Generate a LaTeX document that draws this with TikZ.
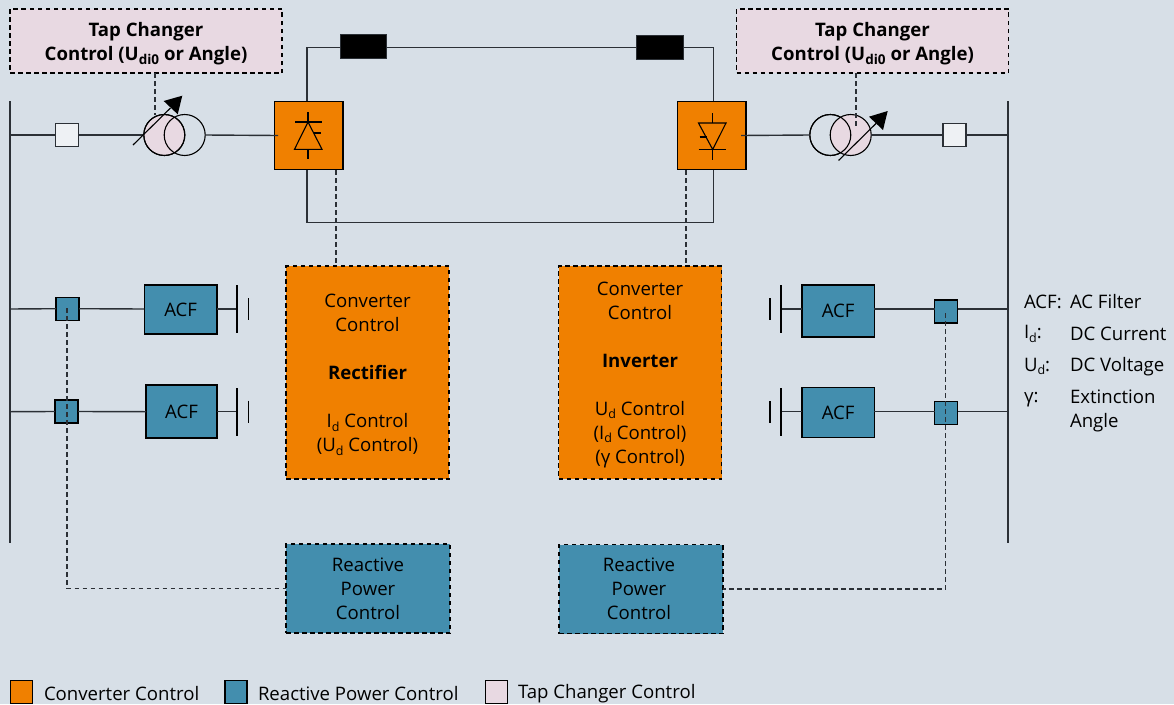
\documentclass[tikz,border=0pt]{standalone}
\usepackage{fontspec}
\setmainfont{Open Sans}
\definecolor{bgc}{HTML}{D7DFE7}
\definecolor{linec}{HTML}{2B3036}
\definecolor{orangec}{HTML}{F08000}
\definecolor{bluec}{HTML}{438EAE}
\definecolor{pinkc}{HTML}{E8D9E2}
\definecolor{whitec}{HTML}{EEF1F4}
\newcommand{\subs}[1]{\raisebox{-0.35ex}{\fontsize{12.5}{12}\selectfont #1}}
\newcommand{\bsubs}[1]{\raisebox{-0.35ex}{\fontsize{13.5}{12}\selectfont #1}}
\newcommand{\tfs}{\fontsize{18.6}{24}\selectfont}
\newcommand{\lift}[1]{\rule{0pt}{#1pt}}
\newcommand{\nudge}{\hspace*{-4pt}}
\tikzset{
  txt/.style={font=\tfs,text=black,inner sep=0pt,outer sep=0pt},
  wire/.style={draw=linec,line width=1.4pt},
  ctrl/.style={draw=linec,line width=1.3pt,dash pattern=on 4.5pt off 3.5pt},
  solidbox/.style={draw=black,line width=1.1pt,inner sep=0pt,outer sep=0pt},
  dashbox/.style={draw=black,line width=1.1pt,dash pattern=on 4.5pt off 3.5pt,inner sep=0pt,outer sep=0pt,
     align=center,font=\tfs,text=black},
  tapbox/.style={dashbox,fill=pinkc,minimum width=272pt,minimum height=64pt,font=\tfs\bfseries},
  convbox/.style={dashbox,fill=orangec,minimum width=163pt,minimum height=213pt},
  rpcbox/.style={dashbox,fill=bluec,minimum width=164pt,minimum height=89pt},
  converter/.style={solidbox,fill=orangec,minimum size=68.5pt},
  reactor/.style={solidbox,draw=linec,fill=black,minimum width=46.5pt,minimum height=24pt},
  breaker/.style={solidbox,draw=linec,fill=whitec,minimum size=23pt},
  acbreaker/.style={solidbox,fill=bluec,minimum size=23pt},
  acf/.style={solidbox,fill=bluec,font=\tfs,text=black},
  winding/.style={circle,draw=black,line width=1.1pt,minimum size=41pt,inner sep=0pt,outer sep=0pt},
  legendbox/.style={solidbox,minimum width=22pt,minimum height=23pt},
  thinl/.style={draw=black,line width=1.1pt},
}
\begin{document}
\begin{tikzpicture}[x=1pt,y=-1pt]
\useasboundingbox (0,0) rectangle (1174,704);
\fill[bgc] (0,0) rectangle (1174,704);

% bus bars
\coordinate (busLt) at (10,101);
\coordinate (busLb) at (10,543);
\coordinate (busRt) at (1008,101);
\coordinate (busRb) at (1008,543);
\draw[wire] (busLt) -- (busLb);
\draw[wire] (busRt) -- (busRb);

% control boxes
\node[tapbox] (tapL) at (146,41) {\lift{20}Tap Changer\\Control (U\bsubs{di0} or Angle)};
\node[tapbox] (tapR) at (872.5,41) {\lift{20}Tap Changer\\Control (U\bsubs{di0} or Angle)};
\node[convbox] (ccL) at (367.5,372.5) {\lift{18}Converter\\Control\\[24pt]\textbf{Rectifier}\\[24pt]I\subs{d} Control\\(U\subs{d} Control)};
\node[convbox] (ccR) at (640,372.5) {\lift{18}Converter\\Control\\[24pt]\textbf{Inverter}\\[24pt]U\subs{d} Control\\(I\subs{d} Control)\\(γ Control)};
\node[rpcbox] (rpcL) at (368,588.5) {Reactive\\Power\\Control};
\node[rpcbox] (rpcR) at (641,589) {\nudge Reactive\\\nudge Power\\\nudge Control};

% converters and reactors
\node[converter] (conL) at (308.75,135.5) {};
\node[converter] (conR) at (711.75,135.5) {};
\node[reactor] (reL) at (363.5,46.3) {};
\node[reactor] (reR) at (660,47.5) {};
\coordinate (dcTL) at (307,47.3);
\coordinate (dcTR) at (713.5,47.3);
\coordinate (dcBL) at (307,222.5);
\coordinate (dcBR) at (713.5,222.5);
\draw[wire] (conL.north -| dcTL) -- (dcTL) -- (dcTL -| reL.west);
\draw[wire] (dcTL -| reL.east) -- (dcTR -| reR.west);
\draw[wire] (dcTR -| reR.east) -- (dcTR) -- (conR.north -| dcTR);
\draw[wire] (conL.south -| dcBL) -- (dcBL) -- (dcBR) -- (conR.south -| dcBR);

% breakers
\node[breaker] (brL) at (66.7,135) {};
\node[breaker] (brR) at (954.5,135) {};

% transformers
\node[winding,fill=pinkc] (tL1) at (164.3,135) {};
\node[winding] (tL2) at (184.7,135) {};
\node[winding] (tR1) at (830.3,135) {};
\node[winding,fill=pinkc] (tR2) at (850.7,135) {};
\draw[thinl] (164.3,135) circle (20.5pt);
\draw[thinl] (830.3,135) circle (20.5pt);

\draw[wire] (busLt |- brL) -- (brL.west);
\draw[wire] (brL.east) -- (tL1.west);
\draw[wire] (tL2.east) -- ([xshift=3.5pt]conL.west);
\draw[wire] ([xshift=-5pt]conR.east) -- (tR1.west);
\draw[wire] (tR2.east) -- (brR.west);
\draw[wire] (brR.east) -- (busRt |- brR);

% tap changer control lines
\coordinate (tapLe) at (155,115);
\coordinate (tapRe) at (856,127);
\draw[ctrl] (tapL.south -| tapLe) -- (tapLe);
\draw[ctrl] (tapR.south -| tapRe) -- (tapRe);

% adjustable arrows
\coordinate (arLa) at (133,145);
\coordinate (arLb) at (170.5,108);
\coordinate (arRa) at (838.5,160.5);
\coordinate (arRb) at (876,123.5);
\draw[thinl] (arLa) -- (arLb);
\draw[thinl] (arRa) -- (arRb);
\fill[black] (182.3,95.7) -- (163.7,101) -- (177.7,114.3) -- cycle;
\fill[black] (887.7,111) -- (869,116.7) -- (883,130) -- cycle;

% diodes
\draw[thinl] (308,112) -- (308,122);
\draw[thinl] (295,122) -- (322,122);
\draw[thinl,line join=miter] (308,122) -- (322,149.3) -- (294.5,149.3) -- cycle;
\draw[thinl] (308,149.3) -- (308,159);
\draw[thinl] (314,133) -- (321,133);
\draw[thinl] (712.7,113) -- (712.7,123);
\draw[thinl,line join=miter] (698.5,123) -- (726,123) -- (712.7,149.5) -- cycle;
\draw[thinl] (698.5,149.5) -- (726,149.5);
\draw[thinl] (712.7,149.5) -- (712.7,159.5);
\draw[thinl] (699.5,137) -- (707,137);

% converter control lines
\coordinate (ctlL) at (336,170);
\coordinate (ctlR) at (686,170);
\draw[ctrl] (ctlL) -- (ccL.north -| ctlL);
\draw[ctrl] (ctlR) -- (ccR.north -| ctlR);

% AC filters
\node[acf,minimum width=72.5pt,minimum height=49pt] (acfL1) at (180.7,309.5) {ACF};
\node[acf,minimum width=71pt,minimum height=53pt] (acfL2) at (181.5,411.5) {ACF};
\node[acf,minimum width=72.5pt,minimum height=52pt] (acfR1) at (838.2,311) {ACF};
\node[acf,minimum width=72.5pt,minimum height=49.5pt] (acfR2) at (838.2,412.5) {ACF};
\node[acbreaker] (sL1) at (67.5,308.7) {};
\node[acbreaker] (sL2) at (66.5,411.5) {};
\node[acbreaker] (sR1) at (946.3,311.5) {};
\node[acbreaker] (sR2) at (946.3,413) {};

\coordinate (capL1) at (237,309);
\coordinate (capL2) at (237,411.7);
\coordinate (capR1) at (781,309);
\coordinate (capR2) at (781,411.7);
\draw[wire] (busLt |- capL1) -- (sL1.west);
\draw[wire] (sL1.east) -- (acfL1.west |- capL1);
\draw[wire] (acfL1.east |- capL1) -- (capL1);
\draw[wire] (busLt |- capL2) -- (sL2.west);
\draw[wire] (sL2.east) -- (acfL2.west |- capL2);
\draw[wire] (acfL2.east |- capL2) -- (capL2);
\draw[wire] (busRt |- capR1) -- (sR1.east |- capR1);
\draw[wire] (sR1.west |- capR1) -- (acfR1.east |- capR1);
\draw[wire] (acfR1.west |- capR1) -- (capR1);
\draw[wire] (busRt |- capR2) -- (sR2.east |- capR2);
\draw[wire] (sR2.west |- capR2) -- (acfR2.east |- capR2);
\draw[wire] (acfR2.west |- capR2) -- (capR2);
% capacitor plates
\draw[thinl] (237,285) -- (237,333);
\draw[thinl] (248.5,298) -- (248.5,320);
\draw[thinl] (237,388) -- (237,436);
\draw[thinl] (248.5,400.5) -- (248.5,423);
\draw[thinl] (781,285) -- (781,333);
\draw[thinl] (770,298) -- (770,320);
\draw[thinl] (781,388) -- (781,436);
\draw[thinl] (770,401) -- (770,423);

% reactive power control lines
\coordinate (qL) at (67,308);
\coordinate (qR) at (945.5,313);
\draw[ctrl] (qL) |- (rpcL.west);
\draw[ctrl] (qR) |- (rpcR.east);

% key
\node[txt,anchor=west] (k1) at (1024,302) {ACF:};
\node[txt,anchor=west] (k1t) at (1070,302) {AC Filter};
\node[txt,anchor=west] (k2) at (1024,334) {I\subs{d}:};
\node[txt,anchor=west] (k2t) at (1070,334) {DC Current};
\node[txt,anchor=west] (k3) at (1024,366.5) {U\subs{d}:};
\node[txt,anchor=west] (k3t) at (1070,366.5) {DC Voltage};
\node[txt,anchor=west] (k4) at (1024,400) {γ:};
\node[txt,anchor=north west,align=left] (k4t) at (1070,390) {Extinction\\Angle};

% legend
\node[legendbox,fill=orangec] (l1) at (21.5,692) {};
\node[legendbox,fill=bluec] (l2) at (236,692) {};
\node[legendbox,fill=pinkc] (l3) at (496.5,692) {};
\node[txt,anchor=west] (l1t) at (44,694) {Converter Control};
\node[txt,anchor=west] (l2t) at (258,694) {Reactive Power Control};
\node[txt,anchor=west] (l3t) at (518,694) {Tap Changer Control};
\end{tikzpicture}
\end{document}
